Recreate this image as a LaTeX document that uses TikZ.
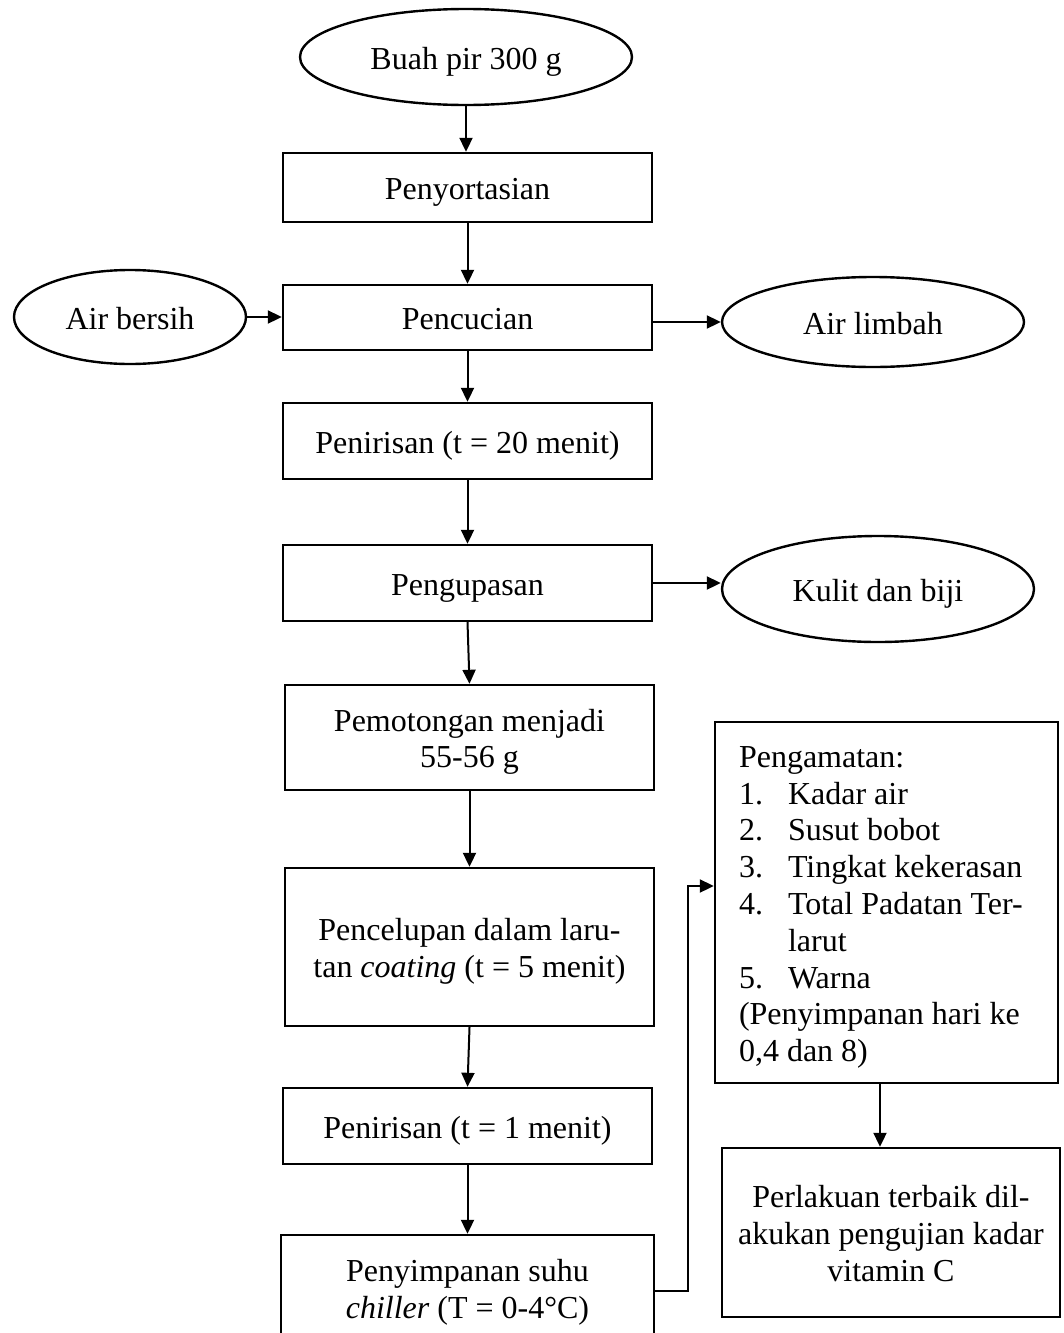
\documentclass[tikz,border=0pt]{standalone}
\usepackage{fontspec}
\setmainfont{Liberation Serif}
\usetikzlibrary{shapes.geometric,arrows.meta,calc}
\newcommand{\strutT}{\rule{0pt}{32pt}}
\newcommand{\strutB}{\rule[-8pt]{0pt}{8pt}}
\begin{document}
\begin{tikzpicture}[x=1pt,y=-1pt,
  txt/.style={font=\fontsize{32}{36.8}\selectfont},
  box/.style={txt,draw,line width=2.4pt,rectangle,inner sep=0pt,align=center},
  oval/.style={txt,draw,line width=2.4pt,ellipse,inner sep=0pt,align=center},
  arr/.style={line width=2pt,-{Triangle[length=14pt,width=13pt]}}]
\useasboundingbox (0,0) rectangle (1064,1333);
% nodes
\node[oval,minimum width=332pt,minimum height=96pt] (buah) at (466,57) {\strutT Buah pir 300 g\strutB};
\node[box,minimum width=369pt,minimum height=69pt] (sort) at (467.5,187.5) {\strutT Penyortasian\strutB};
\node[box,minimum width=369pt,minimum height=65pt] (cuci) at (467.5,317.5) {\strutT Pencucian\strutB};
\node[oval,minimum width=232pt,minimum height=94pt] (bersih) at (130,317) {\strutT Air bersih\strutB};
\node[oval,minimum width=302pt,minimum height=90pt] (limbah) at (873,322) {\strutT Air limbah\strutB};
\node[box,minimum width=369pt,minimum height=76pt] (tiris1) at (467.5,441) {\strutT Penirisan (t = 20 menit)\strutB};
\node[box,minimum width=369pt,minimum height=76pt] (kupas) at (467.5,583) {\strutT Pengupasan\strutB};
\node[oval,minimum width=312pt,minimum height=106pt] (kulit) at (878,589) {\strutT Kulit dan biji\strutB};
\node[box,minimum width=369pt,minimum height=105pt] (potong) at (469.5,737.5) {\strutT Pemotongan menjadi\\55-56 g\strutB};
\node[box,minimum width=369pt,minimum height=158pt] (celup) at (469.5,947) {\strutT Pencelupan dalam laru-\\tan \textit{coating} (t = 5 menit)\strutB};
\node[box,minimum width=369pt,minimum height=76pt] (tiris2) at (467.5,1126) {\strutT Penirisan (t = 1 menit)\strutB};
\node[box,minimum width=373pt,minimum height=106pt] (simpan) at (467.5,1288) {\strutT Penyimpanan suhu\\\textit{chiller} (T = 0-4°C)\strutB};
\node[txt,draw,line width=2.4pt,rectangle,inner xsep=24pt,inner ysep=0pt,text width=295pt,align=left,minimum height=361pt] (amat) at (886.5,902.5)
  {\spaceskip=0pt\xspaceskip=0pt
   \mbox{\strutT Pengamatan:}\\
   \mbox{\makebox[49pt][l]{1.}Kadar air}\\
   \mbox{\makebox[49pt][l]{2.}Susut bobot}\\
   \mbox{\makebox[49pt][l]{3.}Tingkat kekerasan}\\
   \mbox{\makebox[49pt][l]{4.}Total Padatan Ter-}\\
   \mbox{\hspace*{49pt}larut}\\
   \mbox{\makebox[49pt][l]{5.}Warna}\\
   \mbox{(Penyimpanan hari ke}\\
   \mbox{0,4 dan 8)\strutB}};
\node[box,minimum width=338pt,minimum height=169pt] (baik) at (891,1232.5) {\strutT Perlakuan terbaik dil-\\akukan pengujian kadar\\vitamin C\strutB};
\coordinate (bend) at (688,886);
% connectors
\draw[arr] (buah.south) -- (buah.south |- sort.north);
\draw[arr] (sort.south) -- (cuci.north);
\draw[arr] (bersih.east) -- (bersih.east -| cuci.west);
\draw[arr] (cuci.east |- limbah.west) -- (limbah.west);
\draw[arr] (cuci.south) -- (tiris1.north);
\draw[arr] (tiris1.south) -- (kupas.north);
\draw[arr] (kupas.east) -- (kupas.east -| kulit.west);
\draw[arr] (kupas.south) -- (potong.north);
\draw[arr] (potong.south) -- (celup.north);
\draw[arr] (celup.south) -- (tiris2.north);
\draw[arr] (tiris2.south) -- (simpan.north);
\draw[arr] ([yshift=-3pt]simpan.east) -| (bend) -- (bend -| amat.west);
\draw[arr] ([xshift=-6.5pt]amat.south) -- ([xshift=-6.5pt]amat.south |- baik.north);
\end{tikzpicture}
\end{document}
